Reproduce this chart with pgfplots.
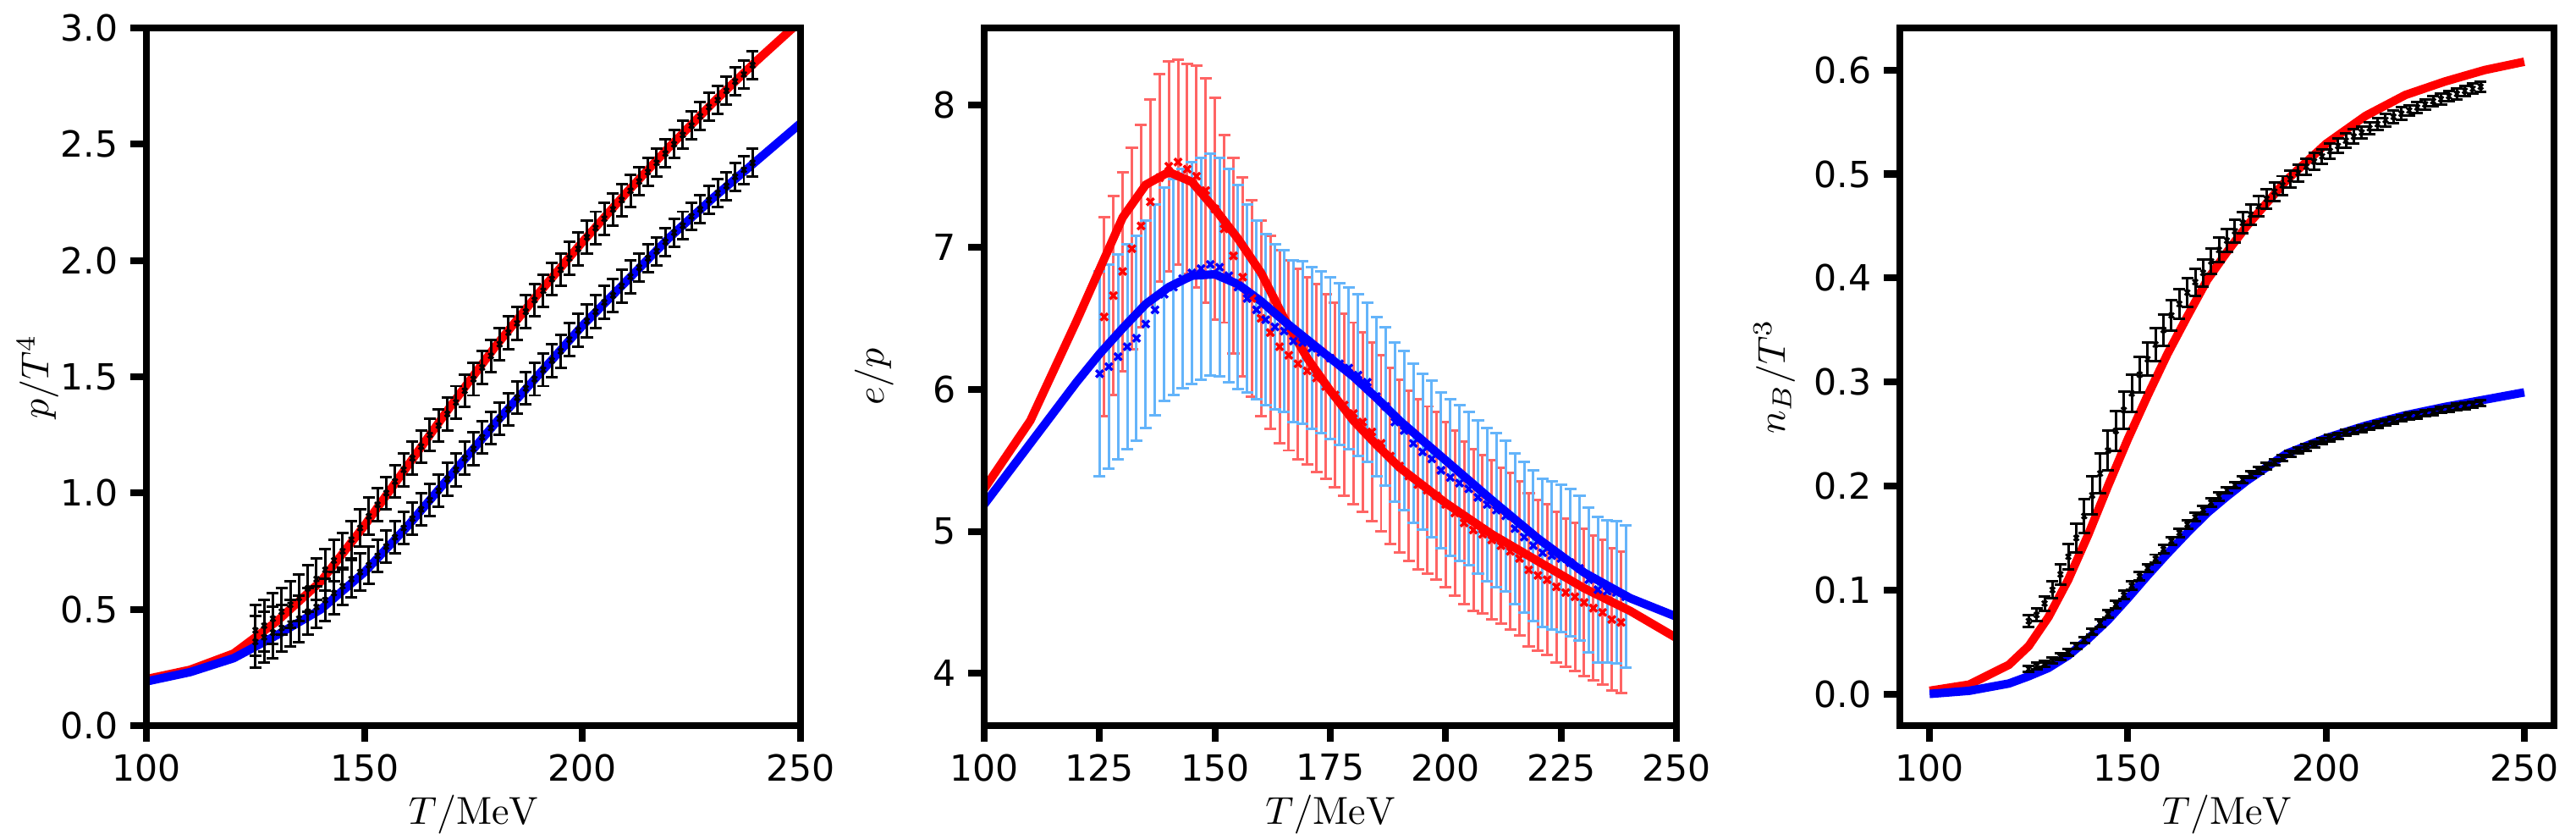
\RequirePackage{fix-cm}
\documentclass[border=0pt]{standalone}
\usepackage{fontspec}
\newfontfamily\dejavu{DejaVu Sans}
\usepackage{pgfplots}
\pgfplotsset{compat=1.18}
\usepackage{pgfplotstable}

\definecolor{lred}{RGB}{255,100,100}
\definecolor{lblue}{RGB}{100,180,250}

% ---------- panel 1: p/T^4 ----------
\pgfplotstableread{
T v
100 0.20
110 0.24
120 0.31
130 0.45
140 0.62
150 0.86
160 1.12
170 1.38
180 1.63
190 1.86
200 2.08
210 2.29
220 2.49
230 2.68
240 2.86
250 3.03
}\pRedCurve
\pgfplotstableread{
T v
100 0.19
110 0.23
120 0.29
130 0.39
140 0.50
150 0.66
160 0.86
170 1.08
180 1.30
190 1.51
200 1.72
210 1.91
220 2.10
230 2.27
240 2.43
250 2.59
}\pBlueCurve
\pgfplotstableread{
T v e
125 0.41 0.11
127 0.43 0.11
129 0.46 0.11
131 0.49 0.10
133 0.52 0.10
135 0.55 0.10
137 0.59 0.10
139 0.63 0.09
141 0.67 0.09
143 0.71 0.09
145 0.75 0.08
147 0.80 0.08
149 0.85 0.08
151 0.90 0.08
153 0.95 0.07
155 1.00 0.07
157 1.05 0.07
159 1.10 0.07
161 1.15 0.07
163 1.20 0.07
165 1.25 0.07
167 1.29 0.07
169 1.34 0.07
171 1.39 0.07
173 1.44 0.07
175 1.49 0.07
177 1.54 0.07
179 1.59 0.07
181 1.64 0.07
183 1.69 0.07
185 1.73 0.07
187 1.78 0.07
189 1.83 0.07
191 1.87 0.07
193 1.92 0.07
195 1.96 0.07
197 2.01 0.07
199 2.05 0.07
201 2.10 0.07
203 2.14 0.07
205 2.18 0.07
207 2.22 0.07
209 2.26 0.07
211 2.30 0.07
213 2.34 0.06
215 2.38 0.06
217 2.42 0.06
219 2.46 0.06
221 2.50 0.06
223 2.54 0.06
225 2.58 0.06
227 2.62 0.06
229 2.66 0.06
231 2.69 0.06
233 2.73 0.06
235 2.77 0.06
237 2.80 0.06
239 2.84 0.06
}\pRedData
\pgfplotstableread{
T v e
125 0.36 0.11
127 0.38 0.11
129 0.40 0.11
131 0.42 0.10
133 0.44 0.10
135 0.46 0.10
137 0.49 0.10
139 0.51 0.09
141 0.54 0.09
143 0.57 0.09
145 0.60 0.08
147 0.63 0.08
149 0.66 0.08
151 0.69 0.08
153 0.73 0.07
155 0.77 0.07
157 0.81 0.07
159 0.85 0.07
161 0.89 0.07
163 0.93 0.07
165 0.97 0.07
167 1.01 0.07
169 1.06 0.07
171 1.10 0.07
173 1.15 0.07
175 1.19 0.07
177 1.24 0.07
179 1.28 0.07
181 1.32 0.07
183 1.36 0.07
185 1.41 0.07
187 1.45 0.07
189 1.49 0.07
191 1.53 0.07
193 1.57 0.07
195 1.61 0.07
197 1.66 0.07
199 1.70 0.07
201 1.74 0.07
203 1.78 0.07
205 1.82 0.07
207 1.85 0.07
209 1.89 0.07
211 1.93 0.07
213 1.97 0.06
215 2.01 0.06
217 2.04 0.06
219 2.08 0.06
221 2.12 0.06
223 2.15 0.06
225 2.19 0.06
227 2.22 0.06
229 2.26 0.06
231 2.29 0.06
233 2.32 0.06
235 2.36 0.06
237 2.39 0.06
239 2.42 0.06
}\pBlueData

% ---------- panel 2: e/p ----------
\pgfplotstableread{
T v
100 5.30
110 5.78
120 6.48
130 7.21
135 7.44
140 7.53
145 7.46
150 7.27
155 7.06
160 6.82
165 6.50
170 6.22
175 5.99
180 5.78
185 5.61
190 5.45
200 5.20
210 4.98
220 4.79
230 4.60
240 4.44
250 4.25
}\eRedCurve
\pgfplotstableread{
T v
100 5.19
110 5.62
120 6.05
125 6.25
130 6.43
135 6.60
140 6.72
145 6.80
150 6.81
155 6.74
160 6.62
165 6.48
170 6.35
175 6.22
180 6.09
185 5.94
190 5.78
200 5.50
210 5.22
220 4.95
230 4.71
240 4.53
250 4.40
}\eBlueCurve
\pgfplotstableread{
T v e
126 6.51 0.70
128 6.66 0.70
130 6.83 0.70
132 6.99 0.71
134 7.15 0.71
136 7.32 0.72
138 7.49 0.73
140 7.57 0.74
142 7.60 0.72
144 7.55 0.74
146 7.50 0.78
148 7.40 0.79
150 7.27 0.78
152 7.13 0.66
154 6.94 0.69
156 6.79 0.70
158 6.64 0.69
160 6.50 0.69
162 6.40 0.68
164 6.30 0.68
166 6.24 0.67
168 6.18 0.67
170 6.13 0.66
172 6.08 0.66
174 6.02 0.65
176 5.96 0.65
178 5.89 0.64
180 5.83 0.64
182 5.77 0.63
184 5.70 0.63
186 5.62 0.62
188 5.53 0.62
190 5.46 0.61
192 5.39 0.60
194 5.33 0.60
196 5.29 0.59
198 5.25 0.59
200 5.19 0.58
202 5.13 0.58
204 5.06 0.57
206 5.01 0.57
208 4.98 0.56
210 4.94 0.56
212 4.90 0.55
214 4.86 0.55
216 4.81 0.54
218 4.73 0.54
220 4.69 0.53
222 4.66 0.53
224 4.61 0.53
226 4.57 0.52
228 4.54 0.52
230 4.50 0.52
232 4.46 0.51
234 4.43 0.51
236 4.38 0.50
238 4.36 0.50
}\eRedData
\pgfplotstableread{
T v e
125 6.11 0.72
127 6.16 0.72
129 6.23 0.72
131 6.30 0.72
133 6.36 0.72
135 6.46 0.73
137 6.56 0.74
139 6.67 0.75
141 6.72 0.76
143 6.78 0.77
145 6.82 0.78
147 6.85 0.78
149 6.88 0.78
151 6.86 0.77
153 6.80 0.75
155 6.72 0.72
157 6.64 0.66
159 6.56 0.63
161 6.49 0.60
163 6.44 0.58
165 6.41 0.57
167 6.34 0.57
169 6.33 0.57
171 6.29 0.57
173 6.26 0.57
175 6.22 0.57
177 6.18 0.57
179 6.15 0.57
181 6.10 0.57
183 6.05 0.56
185 5.95 0.56
187 5.88 0.56
189 5.77 0.56
191 5.71 0.56
193 5.62 0.56
195 5.56 0.55
197 5.51 0.55
199 5.43 0.55
201 5.38 0.55
203 5.34 0.55
205 5.30 0.54
207 5.24 0.54
209 5.19 0.54
211 5.15 0.54
213 5.11 0.53
215 5.02 0.53
217 4.96 0.53
219 4.90 0.53
221 4.85 0.52
223 4.83 0.52
225 4.81 0.52
227 4.78 0.52
229 4.74 0.51
231 4.66 0.51
233 4.59 0.51
235 4.58 0.50
237 4.57 0.50
239 4.54 0.50
}\eBlueData

% ---------- panel 3: n_B/T^3 ----------
\pgfplotstableread{
T v
100 0.003
110 0.009
120 0.028
125 0.046
130 0.074
135 0.110
140 0.153
145 0.200
150 0.245
155 0.287
160 0.327
165 0.363
170 0.398
175 0.425
180 0.450
190 0.494
200 0.529
210 0.556
220 0.576
230 0.589
240 0.600
250 0.608
}\nRedCurve
\pgfplotstableread{
T v
100 0.000
110 0.003
120 0.010
125 0.017
130 0.025
135 0.037
140 0.053
145 0.071
150 0.092
155 0.114
160 0.135
165 0.155
170 0.174
175 0.190
180 0.205
190 0.231
200 0.246
210 0.258
220 0.268
230 0.276
240 0.283
250 0.290
}\nBlueCurve
\pgfplotstableread{
T v e
125 0.070 0.006
127 0.076 0.006
129 0.087 0.007
131 0.100 0.008
133 0.115 0.010
135 0.132 0.012
137 0.150 0.014
139 0.171 0.016
141 0.191 0.018
143 0.212 0.019
145 0.234 0.019
147 0.253 0.019
149 0.273 0.018
151 0.289 0.018
153 0.307 0.017
155 0.322 0.016
157 0.336 0.016
159 0.350 0.015
161 0.364 0.015
163 0.375 0.014
165 0.386 0.014
167 0.396 0.013
169 0.405 0.013
171 0.416 0.012
173 0.427 0.012
175 0.436 0.011
177 0.445 0.011
179 0.453 0.010
181 0.461 0.010
183 0.469 0.010
185 0.476 0.009
187 0.483 0.009
189 0.489 0.009
191 0.495 0.008
193 0.501 0.008
195 0.507 0.008
197 0.512 0.008
199 0.517 0.007
201 0.522 0.007
203 0.527 0.007
205 0.532 0.007
207 0.536 0.007
209 0.540 0.006
211 0.544 0.006
213 0.548 0.006
215 0.552 0.006
217 0.555 0.006
219 0.558 0.006
221 0.561 0.005
223 0.564 0.005
225 0.567 0.005
227 0.570 0.005
229 0.572 0.005
231 0.575 0.005
233 0.577 0.005
235 0.580 0.005
237 0.582 0.005
239 0.584 0.005
}\nRedData
\pgfplotstableread{
T v e
125 0.024 0.003
127 0.027 0.003
129 0.029 0.003
131 0.032 0.003
133 0.036 0.003
135 0.040 0.003
137 0.046 0.003
139 0.052 0.003
141 0.060 0.003
143 0.068 0.004
145 0.077 0.004
147 0.086 0.004
149 0.095 0.004
151 0.104 0.004
153 0.113 0.004
155 0.121 0.004
157 0.130 0.004
159 0.139 0.004
161 0.147 0.004
163 0.155 0.004
165 0.163 0.004
167 0.170 0.004
169 0.177 0.004
171 0.184 0.004
173 0.190 0.004
175 0.196 0.003
177 0.201 0.003
179 0.206 0.003
181 0.211 0.003
183 0.215 0.003
185 0.219 0.003
187 0.223 0.003
189 0.227 0.003
191 0.231 0.003
193 0.234 0.003
195 0.237 0.003
197 0.240 0.003
199 0.243 0.003
201 0.246 0.003
203 0.248 0.003
205 0.251 0.003
207 0.253 0.003
209 0.255 0.003
211 0.257 0.003
213 0.259 0.003
215 0.261 0.003
217 0.263 0.003
219 0.265 0.003
221 0.267 0.003
223 0.268 0.003
225 0.270 0.003
227 0.271 0.003
229 0.273 0.003
231 0.274 0.003
233 0.276 0.003
235 0.277 0.003
237 0.278 0.003
239 0.280 0.003
}\nBlueData

\pgfplotsset{
  panel/.style={
    scale only axis, anchor=south west, height=193.64pt,
    axis on top, clip=true,
    axis line style={line width=1.9pt},
    tick align=outside, major tick length=4.4pt,
    every tick/.style={black, line width=1.9pt},
    xtick pos=bottom, ytick pos=left,
    ticklabel style={font=\dejavu},
    /pgf/number format/assume math mode=true,
    label style={font=\fontsize{10.8}{13}\selectfont},
    xlabel={$T/\mathrm{MeV}$}, xlabel shift=-3pt,
  },
  curve/.style={no marks, line width=2.35pt},
  blackbars/.style={only marks, black, mark=x, mark size=1pt,
    mark options={line width=0.6pt},
    error bars/.cd, y dir=both, y explicit,
    error bar style={line width=0.7pt, black},
    error mark options={line width=0.7pt, black, mark size=1.65pt, rotate=90}},
  colbars/.style 2 args={only marks, mark=x, mark size=1.4pt,
    mark options={line width=0.8pt, draw=#2},
    error bars/.cd, y dir=both, y explicit,
    error bar style={line width=0.7pt, #1},
    error mark options={line width=0.7pt, #1, mark size=1.65pt, rotate=90}},
}

\begin{document}
\begin{tikzpicture}
\useasboundingbox (0,0) rectangle (715.34pt,231.24pt);

\begin{axis}[panel, at={(40.655pt,29.845pt)}, width=181.655pt,
  xmin=100, xmax=250, ymin=0, ymax=3,
  xtick={100,150,200,250}, ytick={0,0.5,...,3.0},
  yticklabel style={/pgf/number format/.cd, fixed, fixed zerofill, precision=1},
  ylabel={$p/T^4$}, ylabel shift=-6.3pt]
  \addplot[curve, red] table[x=T,y=v] {\pRedCurve};
  \addplot[curve, blue] table[x=T,y=v] {\pBlueCurve};
  \addplot[blackbars] table[x=T,y=v,y error=e] {\pRedData};
  \addplot[blackbars] table[x=T,y=v,y error=e] {\pBlueData};
\end{axis}

\begin{axis}[panel, at={(273.305pt,29.845pt)}, width=192.23pt,
  xmin=100, xmax=250, ymin=3.633, ymax=8.544,
  xtick={100,125,...,250}, ytick={4,5,6,7,8},
  ylabel={$e/p$}, ylabel shift=4pt]
  \addplot[colbars={lred}{red}] table[x=T,y=v,y error=e] {\eRedData};
  \addplot[colbars={lblue}{blue}] table[x=T,y=v,y error=e] {\eBlueData};
  \addplot[curve, red] table[x=T,y=v] {\eRedCurve};
  \addplot[curve, blue] table[x=T,y=v] {\eBlueCurve};
\end{axis}

\begin{axis}[panel, at={(527.575pt,29.845pt)}, width=181.655pt,
  xmin=92.5, xmax=257.5, ymin=-0.0305, ymax=0.6405,
  xtick={100,150,200,250}, ytick={0,0.1,...,0.6},
  yticklabel style={/pgf/number format/.cd, fixed, fixed zerofill, precision=1},
  ylabel={$n_B/T^3$}, ylabel shift=-1.6pt]
  \addplot[curve, red] table[x=T,y=v] {\nRedCurve};
  \addplot[curve, blue] table[x=T,y=v] {\nBlueCurve};
  \addplot[blackbars] table[x=T,y=v,y error=e] {\nRedData};
  \addplot[blackbars] table[x=T,y=v,y error=e] {\nBlueData};
\end{axis}
\end{tikzpicture}
\end{document}
